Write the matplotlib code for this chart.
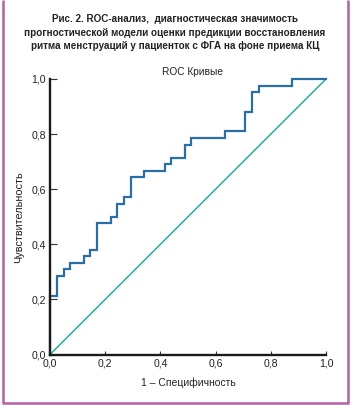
import matplotlib
matplotlib.use("Agg")
import matplotlib.pyplot as plt
from matplotlib.lines import Line2D

plt.rcParams['font.family'] = ['Liberation Sans', 'DejaVu Sans']

# ROC curve vertices (1 - specificity, sensitivity), drawn as steps
fpr = [0.0, 0.0, 0.024, 0.049, 0.073, 0.122, 0.146, 0.171, 0.220, 0.244, 0.268,
       0.293, 0.341, 0.415, 0.439, 0.488, 0.512, 0.634, 0.707, 0.732, 0.756,
       0.878, 1.0]
tpr = [0.0, 0.214, 0.286, 0.310, 0.333, 0.357, 0.381, 0.476, 0.500, 0.548, 0.571,
       0.643, 0.667, 0.690, 0.714, 0.762, 0.786, 0.810, 0.881, 0.952, 0.976,
       1.0, 1.0]
diag = [0.0, 1.0]
ticks = [0.0, 0.2, 0.4, 0.6, 0.8, 1.0]
tick_labels = ["0,0", "0,2", "0,4", "0,6", "0,8", "1,0"]

title = ("Рис. 2. ROC-анализ,  диагностическая значимость\n"
         "прогностической модели оценки предикции восстановления\n"
         "ритма менструаций у пациенток с ФГА на фоне приема КЦ")

W, H = 350, 405
fig = plt.figure(figsize=(W / 100, H / 100), dpi=100)
ax = fig.add_axes([50 / W, 1 - 354.5 / H, 276 / W, 275.5 / H])

blue = "#2b6ea5"
teal = "#16a596"
txt = "#222222"

ax.plot(diag, diag, color=teal, lw=1.0, clip_on=False, zorder=1.9)
ax.plot(fpr, tpr, color=blue, lw=1.6, drawstyle="steps-post", clip_on=False,
        zorder=2, solid_joinstyle="miter")

ax.set_xlim(0, 1)
ax.set_ylim(0, 1)
for s in ["top", "right"]:
    ax.spines[s].set_visible(False)
for s in ["left", "bottom"]:
    ax.spines[s].set_linewidth(1.7)
    ax.spines[s].set_color("#1a1a1a")
    ax.spines[s].set_zorder(3)
ax.set_xticks(ticks)
ax.set_xticklabels(tick_labels)
ax.set_yticks(ticks)
ax.set_yticklabels(tick_labels)
ax.tick_params(axis="y", direction="in", length=5, width=0.8, labelsize=7.6,
               colors="#333333", labelcolor=txt, pad=3)
ax.tick_params(axis="x", direction="in", length=3, width=0.8, labelsize=7.6,
               colors="#333333", labelcolor=txt, pad=3)

ax.set_xlabel("1 – Специфичность", fontsize=7.5, color=txt, labelpad=6)
ax.set_ylabel("Чувствительность", fontsize=7.8, color=txt, labelpad=5)
fig.text(193 / W, 1 - 72 / H, "ROC Кривые", ha="center", va="center",
         fontsize=7.3, color=txt)

fig.text(175 / W, 1 - 14.5 / H, title, ha="center", va="top", fontsize=7.1,
         fontweight="bold", color=txt, linespacing=1.42)

border = "#b06aa6"
lw = 1.9
fig.add_artist(Line2D([3 / W, 3 / W], [1.0, 1 - 402.5 / H], color=border, lw=lw,
                      transform=fig.transFigure, solid_capstyle="butt"))
fig.add_artist(Line2D([347.5 / W, 347.5 / W], [1.0, 1 - 402.5 / H], color=border,
                      lw=lw, transform=fig.transFigure, solid_capstyle="butt"))
fig.add_artist(Line2D([2 / W, 348.5 / W], [1 - 402.5 / H, 1 - 402.5 / H],
                      color=border, lw=lw, transform=fig.transFigure,
                      solid_capstyle="butt"))

fig.savefig("out.png", dpi=100, facecolor="white")
